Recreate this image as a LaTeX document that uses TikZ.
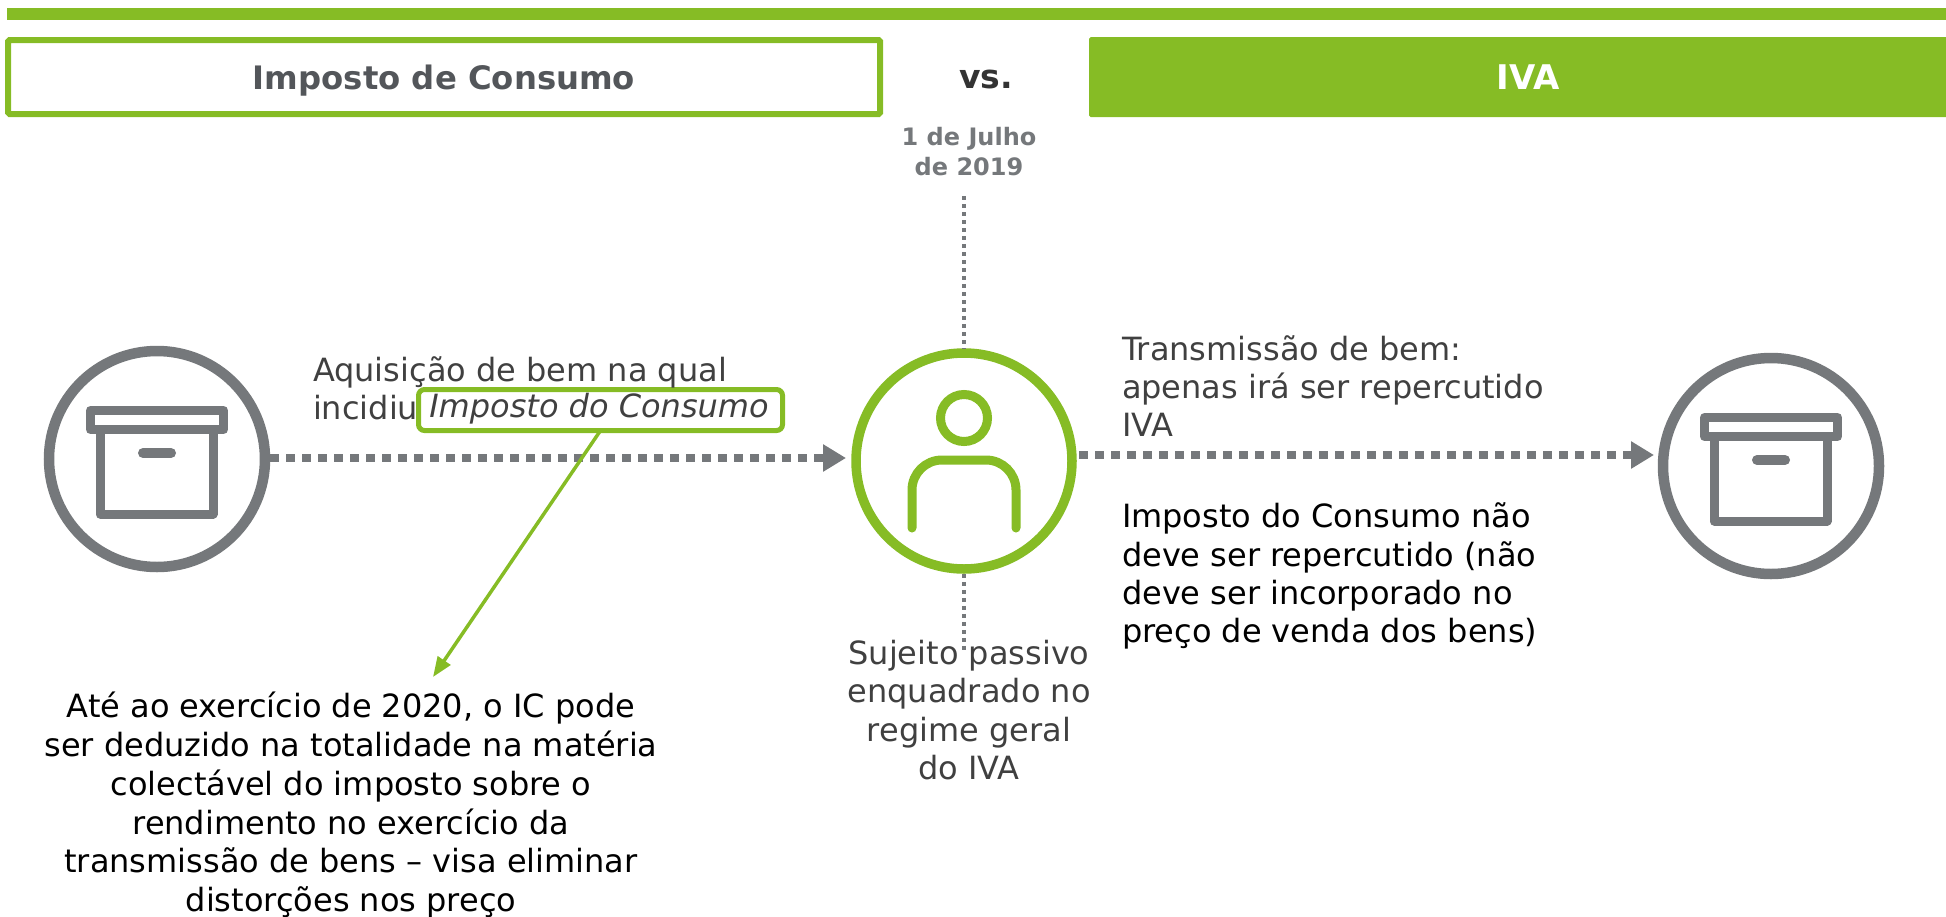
\documentclass[tikz,border=0pt]{standalone}
\usepackage{fontspec}
\setmainfont{DejaVu Sans}
\usetikzlibrary{arrows.meta}
\definecolor{dgreen}{HTML}{86BC25}
\definecolor{dgray}{HTML}{75787B}
\definecolor{dhead}{HTML}{53565A}
\definecolor{dtext}{HTML}{404040}
\tikzset{
  body/.style={font=\fontsize{32}{38}\selectfont,inner sep=0pt,outer sep=0pt},
  headtxt/.style={font=\fontsize{32.3}{36}\selectfont\bfseries,inner sep=0pt},
  ring/.style={circle,minimum size=216pt,inner sep=0pt,fill=white},
  flow/.style={draw=dgray,line width=8pt,dash pattern=on 8.5pt off 7.5pt,-{Triangle[length=23pt,width=26pt]}},
  thindots/.style={draw=dgray,line width=3.5pt,dash pattern=on 4pt off 4pt},
  boxicon/.pic={
    \draw[dgray,line width=9pt,line join=round] (-66.5,-48.5) rectangle (66.5,-29.5);
    \draw[dgray,line width=9pt,line join=round] (-57,-29.5) -- (-57,55) -- (56,55) -- (56,-29.5);
    \draw[dgray,line width=10pt,line cap=round] (-14,-6) -- (14,-6);
  }
}
\begin{document}
\begin{tikzpicture}[x=1pt,y=-1pt]
\useasboundingbox (0,0) rectangle (1946,916);
% header
\fill[dgreen] (7,8) rectangle (1946,20);
\node[draw=dgreen,line width=6pt,rounded corners=1.5pt,minimum width=872pt,minimum height=74pt,anchor=north west,inner sep=0pt,headtxt,text depth=0pt,text=dhead] (ic) at (5,37) {Imposto de Consumo};
\begin{scope}
\clip (0,0) rectangle (1946,916);
\node[fill=dgreen,rounded corners=1.5pt,minimum width=878pt,minimum height=80pt,anchor=north west,inner sep=0pt,headtxt,font=\fontsize{34}{36}\selectfont\bfseries,text=white] (iva) at (1089,37) {IVA};
\end{scope}
\node[headtxt,font=\fontsize{33}{36}\selectfont\bfseries,text=black!80] (vs) at (986,79) {vs.};
\node[font=\fontsize{24}{30}\selectfont\bfseries,text=dgray,align=center,inner sep=0pt] (date) at (969,152) {1 de Julho\\de 2019};
% circles
\node[ring,draw=dgray,line width=10.5pt] (lc) at (157,459) {};
\node[ring,draw=dgreen,line width=9.5pt] (pc) at (964,461) {};
\node[ring,draw=dgray,line width=10.5pt] (rc) at (1771,466) {};
\pic at (157,459) {boxicon};
\pic at (1771,466) {boxicon};
% person
\node[circle,draw=dgreen,line width=9pt,minimum size=47pt,inner sep=0pt] (head) at (964,418) {};
\draw[dgreen,line width=9pt,line cap=round] (912,528) -- (912,490) arc[start angle=180,end angle=270,radius=30] -- (986,460) arc[start angle=270,end angle=360,radius=30] -- (1016,528);
% vertical dotted
\coordinate (vt) at (964,196);
\coordinate (vb) at (964,650);
\draw[thindots] (vt) -- (pc.north);
\draw[thindots] (pc.south) -- (vb);
% flows
\coordinate (lend) at (846,458);
\coordinate (rstart) at (1079,455);
\coordinate (rend) at (1654,455);
\draw[flow] (lc.east |- lend) -- (lend);
\draw[flow] (rstart) -- (rend);
% green label
\node[body,draw=dgreen,line width=5pt,rounded corners=6pt,minimum width=364pt,minimum height=41pt,inner sep=0pt] (lbl) at (600.5,410) {};
\node[body,font=\fontsize{32}{38}\selectfont\itshape,text=dtext] (lbltxt) at (599,409) {Imposto do Consumo};
\coordinate (tip) at (433,677);
\draw[dgreen,line width=3.5pt,-{Triangle[length=20pt,width=15pt]}] (lbl.south) -- (tip);
% texts
\node[body,text=dtext,anchor=west,align=left] (t1) at (313,388) {Aquisição de bem na qual\\incidiu};
\node[body,text=dtext,anchor=north west,align=left] (t2) at (1122,336) {Transmissão de bem:\\apenas irá ser repercutido\\IVA};
\node[body,font=\fontsize{32}{38.2}\selectfont,text=black,anchor=north west,align=left] (t3) at (1122,503) {Imposto do Consumo não\\deve ser repercutido (não\\deve ser incorporado no\\preço de venda dos bens)};
\node[body,font=\fontsize{32}{38.5}\selectfont,text=dtext,anchor=north,align=center] (t4) at (969,640) {Sujeito passivo\\enquadrado no\\regime geral\\do IVA};
\node[body,font=\fontsize{32}{38.8}\selectfont,text=black,anchor=north,align=center] (t5) at (351,692) {Até ao exercício de 2020, o IC pode\\ser deduzido na totalidade na matéria\\colectável do imposto sobre o\\rendimento no exercício da\\transmissão de bens – visa eliminar\\distorções nos preço};
\end{tikzpicture}
\end{document}
